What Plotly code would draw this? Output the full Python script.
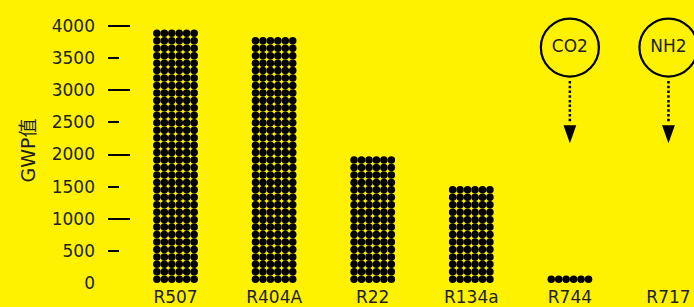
import plotly.graph_objects as go

# ---- data ----
categories = ["R507", "R404A", "R22", "R134a", "R744", "R717"]
gwp_values = [3950, 3830, 1970, 1510, 110, 0]
y_tick_values = [0, 500, 1000, 1500, 2000, 2500, 3000, 3500, 4000]
y_tick_labels = ["0", "500", "1000", "1500", "2000", "2500", "3000", "3500", "4000"]
y_major_ticks = [0, 1000, 2000, 3000, 4000]
callout_labels = ["CO2", "NH2"]
callout_categories = ["R744", "R717"]

# ---- layout constants ----
UNIT_PER_ROW = 116          # GWP units per dot row
N_COLS = 6
COL_STEP = 0.0756           # x spacing between dot columns (category units)
BG = "#FFF200"
INK = "#231f20"
FONT = "DejaVu Sans, Noto Sans CJK SC, sans-serif"

xs, ys = [], []
for i, v in enumerate(gwp_values):
    rows = round(v / UNIT_PER_ROW)
    for r in range(rows):
        for c in range(N_COLS):
            xs.append(i + (c - (N_COLS - 1) / 2) * COL_STEP)
            ys.append(UNIT_PER_ROW * (r + 0.5))

fig = go.Figure()
fig.add_trace(go.Scatter(
    x=xs, y=ys, mode="markers",
    marker=dict(size=7.5, color="black", line=dict(width=0)),
    cliponaxis=False, hoverinfo="skip", showlegend=False,
))

# callouts (circles with text, dotted arrows)
CIRCLE_Y = 3665
LINE_TOP, LINE_BOTTOM = 3143, 2489
ARROW_TIP = 2177
cx = [categories.index(c) for c in callout_categories]
fig.add_trace(go.Scatter(
    x=cx, y=[CIRCLE_Y] * len(cx), mode="markers+text",
    text=callout_labels, textposition="middle center",
    textfont=dict(family=FONT, size=17, color=INK),
    marker=dict(symbol="circle-open", size=58, color="black", line=dict(width=2.2, color="black")),
    cliponaxis=False, hoverinfo="skip", showlegend=False,
))
for x in cx:
    fig.add_trace(go.Scatter(
        x=[x, x], y=[LINE_TOP, LINE_BOTTOM], mode="lines",
        line=dict(color="black", width=2.5, dash="2.5px,2.2px"),
        cliponaxis=False, hoverinfo="skip", showlegend=False,
    ))
    fig.add_shape(
        type="path", xref="x", yref="y",
        xsizemode="pixel", ysizemode="pixel", xanchor=x, yanchor=ARROW_TIP,
        path="M-6.4,18 L6.4,18 L0,0 Z",
        fillcolor="black", line=dict(width=0),
    )

fig.update_layout(
    width=694, height=307,
    margin=dict(l=108, r=0, t=0, b=24.3),
    paper_bgcolor=BG, plot_bgcolor=BG,
    font=dict(family=FONT, size=17, color=INK),
    xaxis=dict(
        range=[-0.685, 5.259], tickvals=list(range(len(categories))), ticktext=categories,
        showgrid=False, zeroline=False, showline=False, ticks="",
        ticklabelstandoff=2, automargin=False,
        tickfont=dict(family=FONT, size=17, color=INK),
    ),
    yaxis=dict(
        range=[0, 4405], tickvals=y_tick_values, ticktext=y_tick_labels,
        showgrid=False, zeroline=False, showline=False,
        ticks="inside", ticklen=11, tickwidth=2, tickcolor="black",
        ticklabelstandoff=12, automargin=False,
        tickfont=dict(family=FONT, size=17, color=INK),
    ),
    yaxis2=dict(
        range=[0, 4405], overlaying="y", side="left", tickvals=y_major_ticks,
        showticklabels=False, showgrid=False, zeroline=False, showline=False,
        ticks="inside", ticklen=22, tickwidth=2, tickcolor="black", automargin=False,
    ),
    annotations=[dict(
        text="GWP值", textangle=-90, xref="paper", yref="y",
        x=-0.136, y=2068, xanchor="center", yanchor="middle", showarrow=False,
        font=dict(family=FONT, size=19, color=INK),
    )],
)
fig.add_trace(go.Scatter(x=[None], y=[None], yaxis="y2", showlegend=False, hoverinfo="skip"))

fig.write_html(
    "out.html",
    config={"displayModeBar": False},
    post_script="document.body.style.margin='0';document.body.style.background='%s';" % BG,
)
